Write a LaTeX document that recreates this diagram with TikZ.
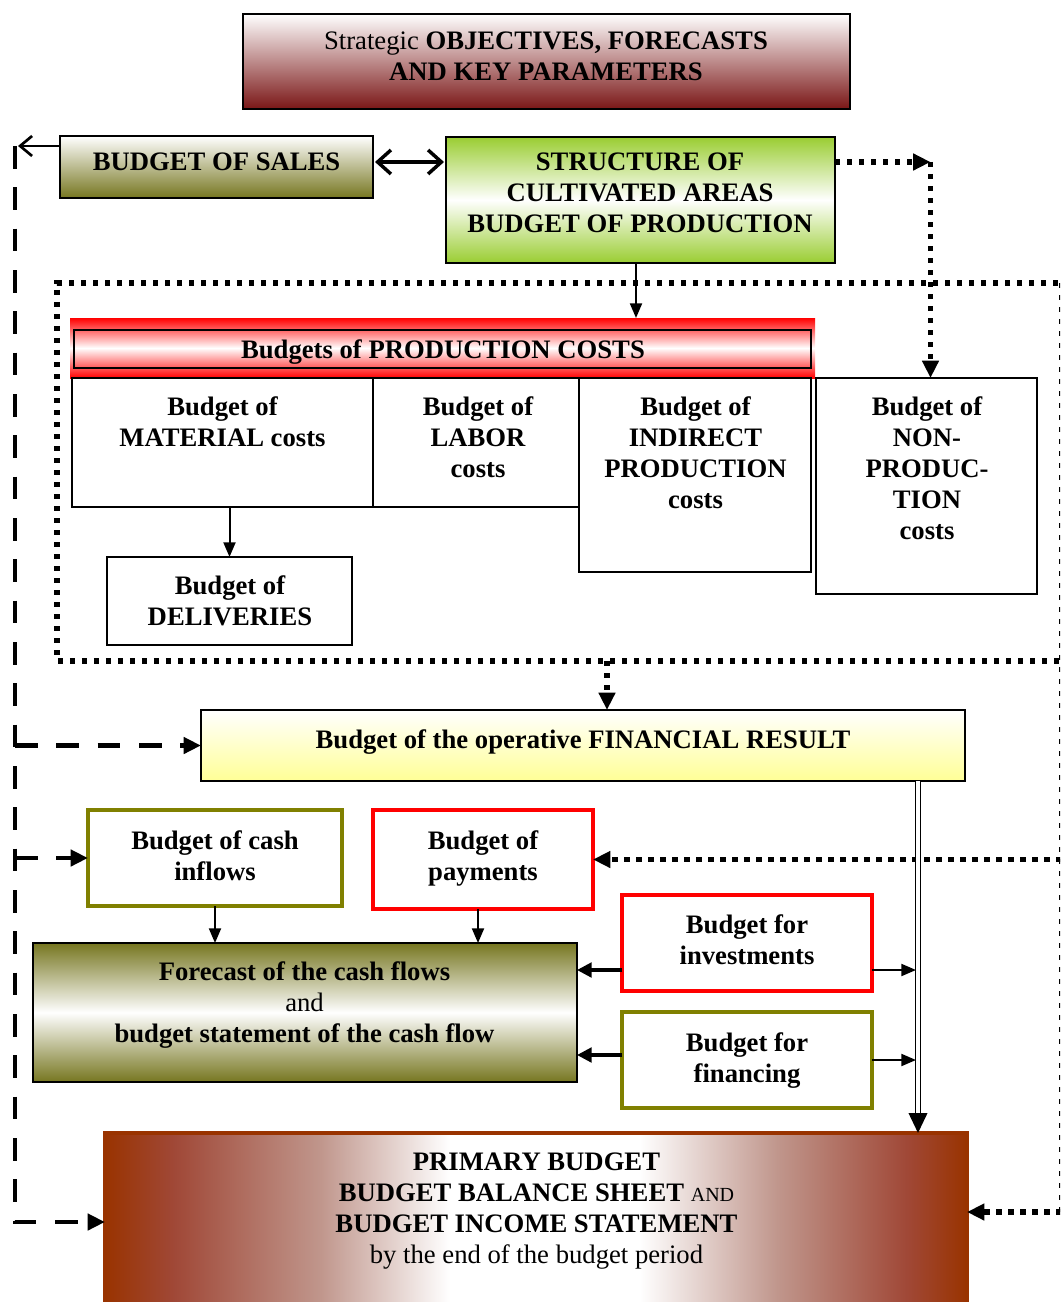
\documentclass[tikz,border=0pt]{standalone}
\usepackage{fontspec}
\setmainfont{Liberation Serif}
\usetikzlibrary{arrows.meta,calc,fit}
\definecolor{olivec}{RGB}{128,128,0}
\definecolor{oliveshade}{RGB}{118,118,32}
\definecolor{maroonc}{RGB}{122,22,22}
\definecolor{greenc}{RGB}{154,205,50}
\definecolor{rust}{RGB}{153,51,0}
\definecolor{lyellow}{RGB}{255,255,150}
\definecolor{rustA}{RGB}{160,72,55}
\definecolor{rustB}{RGB}{192,150,140}
\pgfdeclarehorizontalshading{primshade}{100bp}{color(0bp)=(rust); color(25bp)=(rust); color(29bp)=(rustA); color(37.5bp)=(rustB); color(45bp)=(white); color(56bp)=(white); color(64bp)=(rustB); color(71.5bp)=(rustA); color(75bp)=(rust); color(100bp)=(rust)}
\begin{document}
\begin{tikzpicture}[x=0.75pt,y=-0.75pt,
  box/.style={inner sep=0pt, outer sep=0pt, draw=black, line width=1.5pt},
  obox/.style={inner sep=0pt, outer sep=0pt, draw=olivec, line width=3.6pt},
  rbox/.style={inner sep=0pt, outer sep=0pt, draw=red, line width=3.6pt},
  txt/.style={inner sep=0pt, align=center, anchor=north, font=\fontsize{20}{23.25}\selectfont\bfseries},
  arr/.style={line width=1.5pt, -{Triangle[length=11pt,width=9pt]}},
  arrthick/.style={line width=2.4pt, -{Triangle[length=11pt,width=11pt]}},
  dotline/.style={line width=3.8pt, dash pattern=on 3.8pt off 5.2pt},
  dashline/.style={line width=3.3pt, dash pattern=on 17pt off 14pt},
  bigtip/.style={-{Triangle[length=13pt,width=12pt]}}
]
\useasboundingbox (0,0) rectangle (1060,1302);
\clip (0,0) rectangle (1060,1302);

% boxes
\node[box, fit={(243,14) (850,109)}, top color=white, bottom color=maroonc] (obj) {};
\node[box, fit={(60,136) (373,198)}, top color=white, bottom color=oliveshade] (sales) {};
\node[box, fit={(446,137) (835,263)}, top color=greenc, bottom color=greenc, middle color=white] (struct) {};
\node[inner sep=0pt, outer sep=0pt, fit={(70,318) (815,378)}, top color=red, bottom color=red, middle color=white] (prodband) {};
\node[box, fit={(74,330) (811,368)}] (prodcosts) {};
\node[box, fit={(72,378) (373,507)}] (mat) {};
\node[box, fit={(373,378) (579,507)}] (lab) {};
\node[box, fit={(579,378) (811,572)}] (ind) {};
\node[box, fit={(816,378) (1037,594)}] (nonp) {};
\node[box, fit={(107,557) (352,645)}] (deliv) {};
\node[box, fit={(201,710) (965,781)}, top color=white, bottom color=lyellow] (fin) {};
\node[obox, fit={(88,810) (342,906)}] (inflow) {};
\node[rbox, fit={(373,810) (593,909)}] (pay) {};
\node[box, fit={(33,943) (577,1082)}, top color=oliveshade, bottom color=oliveshade, middle color=white] (forecast) {};
\node[rbox, fit={(622,895) (872,991)}] (invest) {};
\node[obox, fit={(622,1012) (872,1108)}] (financing) {};
\node[inner sep=0pt, outer sep=0pt, draw=rust, line width=3pt, fit={(105,1133) (967,1311)}, shading=primshade] (primary) {};

% texts
\node[txt] (objT) at (546,32) {{\mdseries Strategic} OBJECTIVES, FORECASTS\\AND KEY PARAMETERS};
\node[txt] (salesT) at (216.5,153) {BUDGET OF SALES};
\node[txt] (structT) at (640,153) {STRUCTURE OF\\CULTIVATED AREAS\\BUDGET OF PRODUCTION};
\node[txt] (prodT) at (443,339) {Budgets of PRODUCTION COSTS};
\node[txt] (matT) at (222.5,396) {Budget of\\MATERIAL costs};
\node[txt] (labT) at (478,396) {Budget of\\LABOR\\costs};
\node[txt] (indT) at (695.5,396) {Budget of\\INDIRECT\\PRODUCTION\\costs};
\node[txt] (nonpT) at (927,396) {Budget of\\NON-\\PRODUC-\\TION\\costs};
\node[txt] (delivT) at (230,575) {Budget of\\DELIVERIES};
\node[txt] (finT) at (583,729) {Budget of the operative FINANCIAL RESULT};
\node[txt] (inflowT) at (215,830) {Budget of cash\\inflows};
\node[txt] (payT) at (483,830) {Budget of\\payments};
\node[txt] (forecastT) at (304.5,961) {Forecast of the cash flows\\{\mdseries and}\\budget statement of the cash flow};
\node[txt] (investT) at (747,914) {Budget for\\investments};
\node[txt] (financingT) at (747,1032) {Budget for\\financing};
\node[txt] (primaryT) at (536.5,1153) {PRIMARY BUDGET\\BUDGET BALANCE SHEET {\mdseries\fontsize{15}{23.25}\selectfont AND}\\BUDGET INCOME STATEMENT\\{\mdseries by the end of the budget period}};

% coordinates
\coordinate (Ltop) at (15,146);
\coordinate (Lbot) at (15,1222);
\coordinate (Rtop) at (1061.5,283);
\coordinate (Rbot) at (1061.5,1212);
\coordinate (rb) at (607,661);
\coordinate (S1) at ($(struct.north east)+(0,25)$);
\coordinate (C1) at ($(nonp.north |- S1)+(4,0)$);
\coordinate (D1) at ($(fin.south east)+(-47,0)$);
\coordinate (Iw) at ($(invest.west)+(0,27)$);
\coordinate (Fw) at ($(financing.west)+(0,-5)$);

% dotted frame
\draw[dotline] (1070,283) -- (57,283) -- (57,661) -- (1070,661);

% connectors
\draw[line width=2pt, -{Straight Barb[length=9pt,width=15pt]}] (sales.west |- Ltop) -- ($(Ltop)+(3,0)$);
\draw[line width=2.6pt, {Straight Barb[length=10pt,width=18pt]}-{Straight Barb[length=10pt,width=18pt]}] ($(sales.east)+(2,-5)$) -- ($(struct.west |- sales.east)+(-2,-5)$);
\draw[dashline, bigtip] (Ltop) -- (Lbot) -- (primary.west |- Lbot);
\draw[dashline, bigtip] (Ltop |- fin.west) -- (fin.west);
\draw[dashline, bigtip] (Ltop |- inflow.west) -- (inflow.west);

\draw[dotline, bigtip] (S1) -- (C1);
\draw[dotline, bigtip] (C1) -- (C1 |- nonp.north);
\draw[arr] (struct.south -| 636,0) -- (prodband.north -| 636,0);
\draw[arr] (deliv.north |- mat.south) -- (deliv.north);
\draw[dotline, bigtip] (rb) -- (rb |- fin.north);

\draw[dotline] (Rtop) -- (Rbot);
\draw[dotline, bigtip] (Rtop |- pay.east) -- (pay.east);
\draw[dotline, bigtip] (Rbot) -- (primary.east |- Rbot);

\draw[double, double distance=2.5pt, line width=1.3pt, -{Triangle[length=15pt,width=14pt]}] (D1) -- (D1 |- primary.north);
\draw[arr] (inflow.south) -- (inflow.south |- forecast.north);
\draw[arr] (pay.south -| 478,0) -- (forecast.north -| 478,0);
\draw[arrthick] (Iw) -- (Iw -| forecast.east);
\draw[arrthick] (Fw) -- (Fw -| forecast.east);
\draw[arr] (Iw -| invest.east) -- ($(Iw -| D1)+(-2,0)$);
\draw[arr] (financing.east) -- ($(financing.east -| D1)+(-2,0)$);
\end{tikzpicture}
\end{document}
